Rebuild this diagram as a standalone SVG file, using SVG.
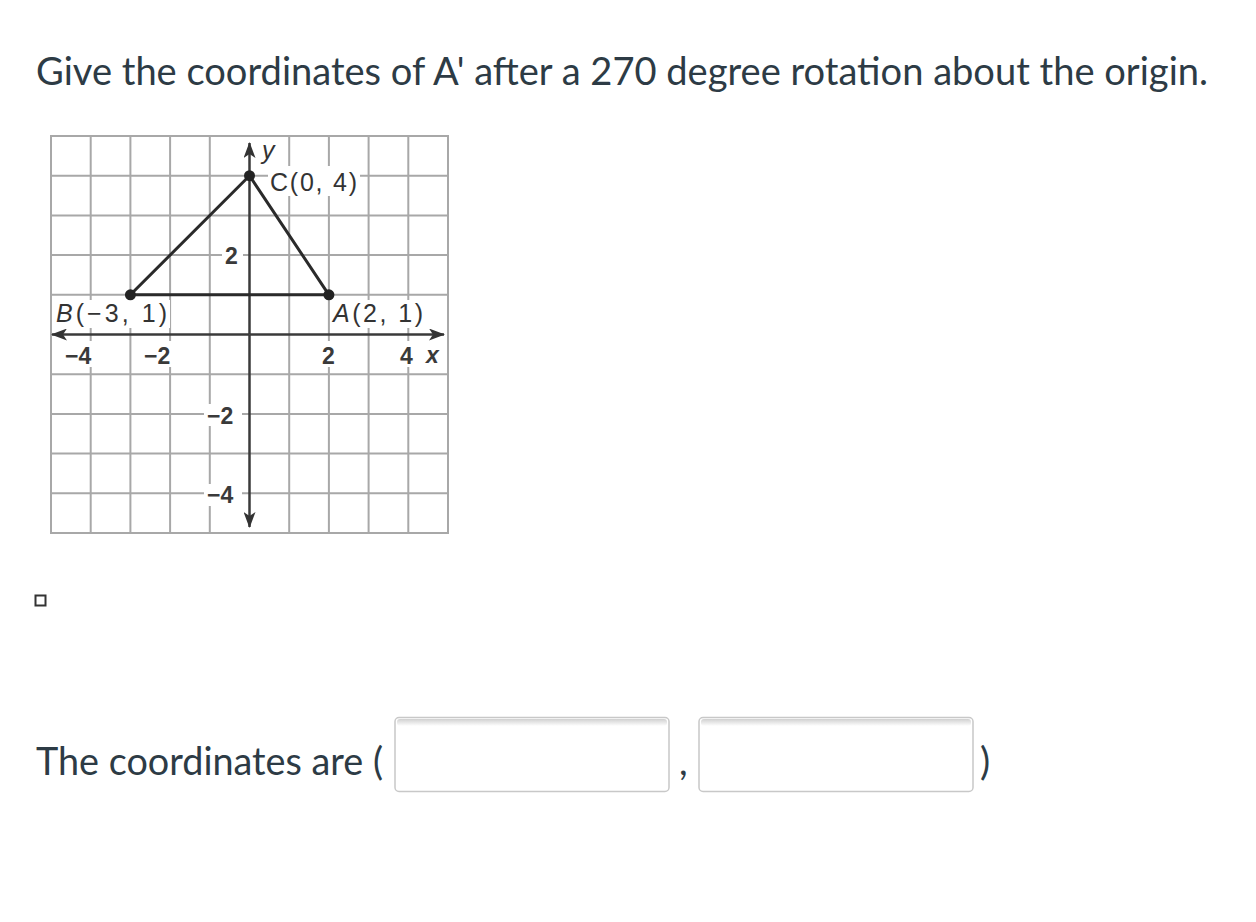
<svg xmlns="http://www.w3.org/2000/svg" width="1256" height="922" viewBox="0 0 1256 922">
<style>
.t{font-family:Lato,"Liberation Sans",sans-serif;fill:#2d3b45;font-size:38px}
.g{stroke:#a8a8a8;stroke-width:2;fill:none}
.ax{stroke:#3a3a3a;stroke-width:2.5;fill:none}
.lb{font-family:"Liberation Sans",Arial,sans-serif;fill:#333;font-size:25px}
.sm{font-family:"Liberation Sans",Arial,sans-serif;fill:#3a3a3a;font-size:23px;font-weight:bold}
.box{fill:#fff;stroke:#c8c8c8;stroke-width:1.5}
</style>
<defs>
<marker id="ar" viewBox="0 0 16 12" refX="15" refY="6" markerWidth="16" markerHeight="12" markerUnits="userSpaceOnUse" orient="auto">
<path d="M0,0 L16,6 L0,12 L4,6 z" fill="#333"/>
</marker>
<linearGradient id="sh" x1="0" y1="0" x2="0" y2="1"><stop offset="0" stop-color="#d0d0d0"/><stop offset="1" stop-color="#ffffff"/></linearGradient>
</defs>
<rect width="1256" height="922" fill="#fff"/>
<text class="t" x="36" y="85" textLength="1172" lengthAdjust="spacingAndGlyphs">Give the coordinates of A' after a 270 degree rotation about the origin.</text>
<g id="graph">
<g class="g">
<rect x="51" y="136" width="397" height="397"/>
<path d="M90.7 136V533M130.4 136V533M170.1 136V533M209.8 136V533M289.2 136V533M328.9 136V533M368.6 136V533M408.3 136V533"/>
<path d="M51 175.7H448M51 215.4H448M51 255.1H448M51 294.8H448M51 374.2H448M51 413.9H448M51 453.6H448M51 493.3H448"/>
</g>
<g fill="#fff">
<rect x="222" y="245" width="21" height="22"/>
<rect x="204" y="404" width="38" height="22"/>
<rect x="204" y="484" width="38" height="22"/>
<rect x="268" y="166" width="92" height="30"/>
<rect x="54" y="300" width="116" height="28"/>
<rect x="331" y="300" width="98" height="28"/>
<rect x="62" y="341" width="38" height="26"/>
<rect x="140" y="341" width="40" height="26"/>
<rect x="318" y="341" width="20" height="26"/>
<rect x="396" y="341" width="45" height="26"/>
<rect x="259" y="143" width="20" height="22"/>
</g>
<path class="ax" d="M249.5 334.5V143" marker-end="url(#ar)"/>
<path class="ax" d="M249.5 334.5V527" marker-end="url(#ar)"/>
<path class="ax" d="M249.5 334.5H52" marker-end="url(#ar)"/>
<path class="ax" d="M249.5 334.5H444" marker-end="url(#ar)"/>
<g id="triangle">
<path d="M249.5 175.7L130.4 294.8H328.9Z" fill="none" stroke="#2a2a2a" stroke-width="3" stroke-linejoin="round"/>
<circle cx="249.5" cy="175.7" r="5.5" fill="#222"/>
<circle cx="130.4" cy="294.8" r="5.5" fill="#222"/>
<circle cx="328.9" cy="294.8" r="5.5" fill="#222"/>
</g>
<text class="lb" x="262" y="159" font-style="italic" font-size="21">y</text>
<text class="lb" x="270" y="191" textLength="87" lengthAdjust="spacing">C(0, 4)</text>
<text class="lb" x="56" y="322" textLength="111" lengthAdjust="spacing"><tspan font-style="italic">B</tspan>(−3, 1)</text>
<text class="lb" x="333" y="322" textLength="90" lengthAdjust="spacing"><tspan font-style="italic">A</tspan>(2, 1)</text>
<text class="sm" x="65" y="364">−4</text>
<text class="sm" x="144" y="364">−2</text>
<text class="sm" x="322" y="364">2</text>
<text class="sm" x="400" y="364">4</text>
<text class="sm" x="426" y="363" font-style="italic" font-weight="normal">x</text>
<text class="sm" x="225" y="264">2</text>
<text class="sm" x="207" y="424">−2</text>
<text class="sm" x="207" y="503">−4</text>
</g>
<g id="checkbox">
<rect x="35.5" y="595.5" width="10" height="10" fill="#fff" stroke="#333" stroke-width="2"/>
</g>
<text class="t" x="36" y="775" textLength="347" lengthAdjust="spacingAndGlyphs">The coordinates are (</text>
<g id="input1">
<rect class="box" x="395" y="717.5" width="274" height="74" rx="4"/>
<rect x="397" y="719" width="270" height="7" fill="url(#sh)" rx="3"/>
</g>
<text class="t" x="679" y="775">,</text>
<g id="input2">
<rect class="box" x="699" y="717.5" width="274" height="74" rx="4"/>
<rect x="701" y="719" width="270" height="7" fill="url(#sh)" rx="3"/>
</g>
<text class="t" x="980" y="775">)</text>
</svg>
